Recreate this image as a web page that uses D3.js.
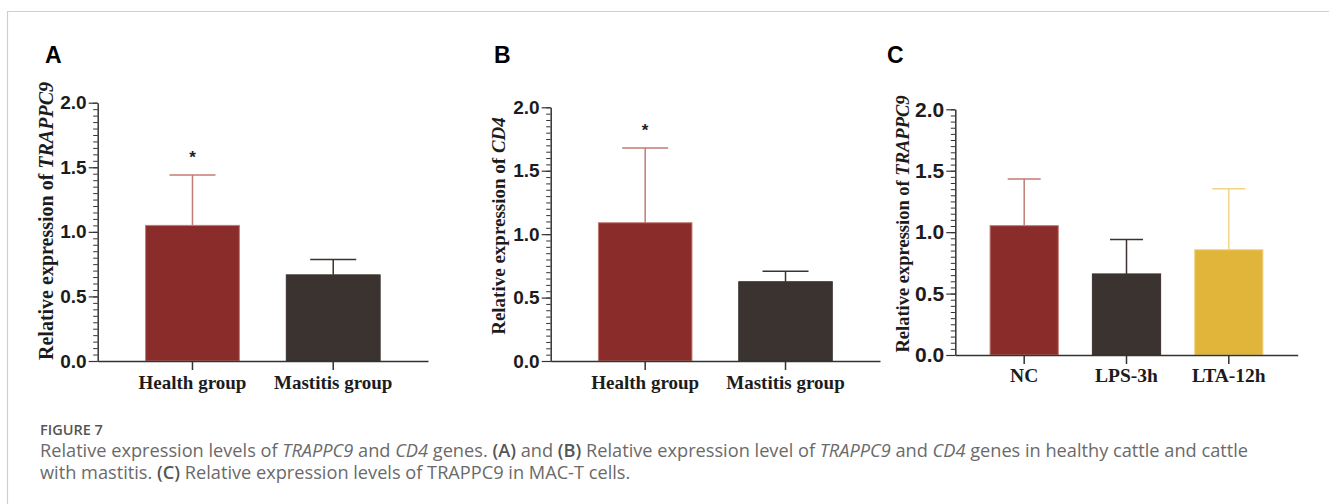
<!DOCTYPE html>
<html>
<head>
<meta charset="utf-8">
<script src="https://cdn.jsdelivr.net/npm/d3@7"></script>
<style>
  body { margin: 0; background: #fff; }
  svg { display: block; }
</style>
</head>
<body>
<div id="fig"></div>
<script>
// values
var catsAB = ["Health group", "Mastitis group"];
var catsC = ["NC", "LPS-3h", "LTA-12h"];

var meanA = [1.05, 0.667];
var sdA = [0.39, 0.118];
var sigA = ["*", ""];

var meanB = [1.09, 0.625];
var sdB = [0.59, 0.082];
var sigB = ["*", ""];

var meanC = [1.053, 0.66, 0.857];
var sdC = [0.38, 0.28, 0.497];
var sigC = ["", "", ""];

var yTicks = [0, 0.5, 1.0, 1.5, 2.0];
var barColors = ["#8a2d2a", "#3b332f", "#e0b53a"];
var errColors = ["#c27b74", "#3b332f", "#f0d486"];

var width = 1329, height = 504;

var svg = d3.select("#fig").append("svg")
    .attr("width", width)
    .attr("height", height);

// frame lines
svg.append("line")
    .attr("x1", 7).attr("x2", width).attr("y1", 11.5).attr("y2", 11.5)
    .attr("stroke", "#cfcfcf").attr("stroke-width", 1.2);
svg.append("line")
    .attr("x1", 7.5).attr("x2", 7.5).attr("y1", 11).attr("y2", height)
    .attr("stroke", "#cfcfcf").attr("stroke-width", 1.2);

var panels = [
    { letter: "A", cats: catsAB, means: meanA, sds: sdA, sig: sigA, gene: "TRAPPC9",
      x0: 97.7, x1: 428, y0: 361, y2: 102.7, letterX: 45,
      labelX: 53, labelY: 221, labelSize: 20, tickFont: 19, catFont: 19, catY: 389, cap: 23 },
    { letter: "B", cats: catsAB, means: meanB, sds: sdB, sig: sigB, gene: "CD4",
      x0: 550.7, x1: 880, y0: 361, y2: 107.3, letterX: 494,
      labelX: 505, labelY: 226, labelSize: 19, tickFont: 19, catFont: 19, catY: 389, cap: 23 },
    { letter: "C", cats: catsC, means: meanC, sds: sdC, sig: sigC, gene: "TRAPPC9",
      x0: 955.3, x1: 1297.7, y0: 355, y2: 109.3, letterX: 887,
      labelX: 909, labelY: 224, labelSize: 18.5, tickFont: 21, catFont: 19.5, catY: 381.7, cap: 16.5 }
];

panels.forEach(function(p) {
    var g = svg.append("g");

    var x = d3.scaleBand()
        .domain(p.cats)
        .range([p.x0, p.x1])
        .paddingInner(1 / 3)
        .paddingOuter(0.34);
    var y = d3.scaleLinear()
        .domain([0, 2])
        .range([p.y0, p.y2]);

    // panel letter
    g.append("text")
        .attr("x", p.letterX)
        .attr("y", 63)
        .style("font-family", "'Liberation Sans', Arial, sans-serif")
        .style("font-weight", "bold")
        .style("font-size", "23px")
        .text(p.letter);

    // bars
    g.selectAll("rect.bar")
        .data(p.means)
        .enter().append("rect")
            .attr("class", "bar")
            .attr("x", function(d, i) { return x(p.cats[i]); })
            .attr("y", function(d) { return y(d); })
            .attr("width", x.bandwidth())
            .attr("height", function(d) { return y(0) - y(d); })
            .attr("fill", function(d, i) { return barColors[i]; })
            .attr("stroke", function(d, i) { return i == 1 ? barColors[i] : errColors[i]; })
            .attr("stroke-width", 1);

    // error bars
    p.means.forEach(function(m, i) {
        var cx = x(p.cats[i]) + x.bandwidth() / 2;
        var top = y(m + p.sds[i]);
        g.append("line")
            .attr("x1", cx).attr("x2", cx)
            .attr("y1", y(m)).attr("y2", top)
            .attr("stroke", errColors[i]).attr("stroke-width", 1.5);
        g.append("line")
            .attr("x1", cx - p.cap).attr("x2", cx + p.cap)
            .attr("y1", top).attr("y2", top)
            .attr("stroke", errColors[i]).attr("stroke-width", 1.5);
        if (p.sig[i]) {
            g.append("text")
                .attr("x", cx)
                .attr("y", top - 12)
                .attr("text-anchor", "middle")
                .style("font-family", "'Liberation Sans', Arial, sans-serif")
                .style("font-weight", "bold")
                .style("font-size", "17px")
                .style("fill", "#222")
                .text(p.sig[i]);
        }
    });

    // minor ticks
    var minor = g.append("g")
        .attr("transform", "translate(" + p.x0 + ",0)")
        .call(d3.axisLeft(y)
            .tickValues(d3.range(0, 41).map(function(i) { return i * 0.05; }))
            .tickSize(4.5)
            .tickFormat(""));
    minor.select(".domain").remove();
    minor.selectAll("line").attr("stroke", "#333");

    // major ticks and labels
    var yAxis = g.append("g")
        .attr("transform", "translate(" + p.x0 + ",0)")
        .call(d3.axisLeft(y)
            .tickValues(yTicks)
            .tickSize(9)
            .tickSizeOuter(0)
            .tickPadding(2)
            .tickFormat(d3.format(".1f")));
    yAxis.select(".domain").attr("stroke", "#333").attr("stroke-width", 1.5);
    yAxis.selectAll("line").attr("stroke", "#333").attr("stroke-width", 1.2);
    yAxis.selectAll("text")
        .style("font-family", "'Liberation Sans', Arial, sans-serif")
        .style("font-weight", "bold")
        .style("font-size", p.tickFont + "px")
        .style("fill", "#1c1c1c");

    // x axis
    var xAxis = g.append("g")
        .attr("transform", "translate(0," + p.y0 + ")")
        .call(d3.axisBottom(x).tickSize(9).tickSizeOuter(0).tickFormat(""));
    xAxis.select(".domain").attr("stroke", "#333").attr("stroke-width", 1.5);
    xAxis.selectAll("line").attr("stroke", "#333").attr("stroke-width", 1.5);

    g.selectAll("text.cat")
        .data(p.cats)
        .enter().append("text")
            .attr("class", "cat")
            .attr("x", function(d) { return x(d) + x.bandwidth() / 2; })
            .attr("y", p.catY)
            .attr("text-anchor", "middle")
            .style("font-family", "'Liberation Serif', 'Times New Roman', serif")
            .style("font-weight", "bold")
            .style("font-size", p.catFont + "px")
            .style("fill", "#1c1c1c")
            .text(function(d) { return d; });

    // y label
    var lab = g.append("text")
        .attr("transform", "translate(" + p.labelX + "," + p.labelY + ") rotate(-90)")
        .attr("text-anchor", "middle")
        .style("font-family", "'Liberation Serif', 'Times New Roman', serif")
        .style("font-weight", "bold")
        .style("font-size", p.labelSize + "px")
        .style("fill", "#1c1c1c");
    lab.append("tspan").text("Relative expression of ");
    lab.append("tspan").style("font-style", "italic").text(p.gene);
});

// caption
var capFont = "'Open Sans', 'Noto Sans', sans-serif";
svg.append("text")
    .attr("x", 40).attr("y", 435)
    .style("font-family", capFont)
    .style("font-weight", 600)
    .style("font-size", "14.5px")
    .style("fill", "#555")
    .text("FIGURE 7");

var captionLines = [
    [["Relative expression levels of ", ""], ["TRAPPC9", "i"], [" and ", ""], ["CD4", "i"],
     [" genes. ", ""], ["(A)", "b"], [" and ", ""], ["(B)", "b"],
     [" Relative expression level of ", ""], ["TRAPPC9", "i"], [" and ", ""], ["CD4", "i"],
     [" genes in healthy cattle and cattle", ""]],
    [["with mastitis. ", ""], ["(C)", "b"], [" Relative expression levels of TRAPPC9 in MAC-T cells.", ""]]
];
var lineY = [457, 479];

captionLines.forEach(function(parts, li) {
    var t = svg.append("text")
        .attr("x", 40).attr("y", lineY[li])
        .style("font-family", capFont)
        .style("font-size", "18.2px")
        .style("fill", "#6a6a6a");
    parts.forEach(function(pt) {
        var s = t.append("tspan").text(pt[0]);
        if (pt[1] == "i") s.style("font-style", "italic");
        if (pt[1] == "b") s.style("font-weight", 600).style("fill", "#555");
    });
});
</script>
</body>
</html>
